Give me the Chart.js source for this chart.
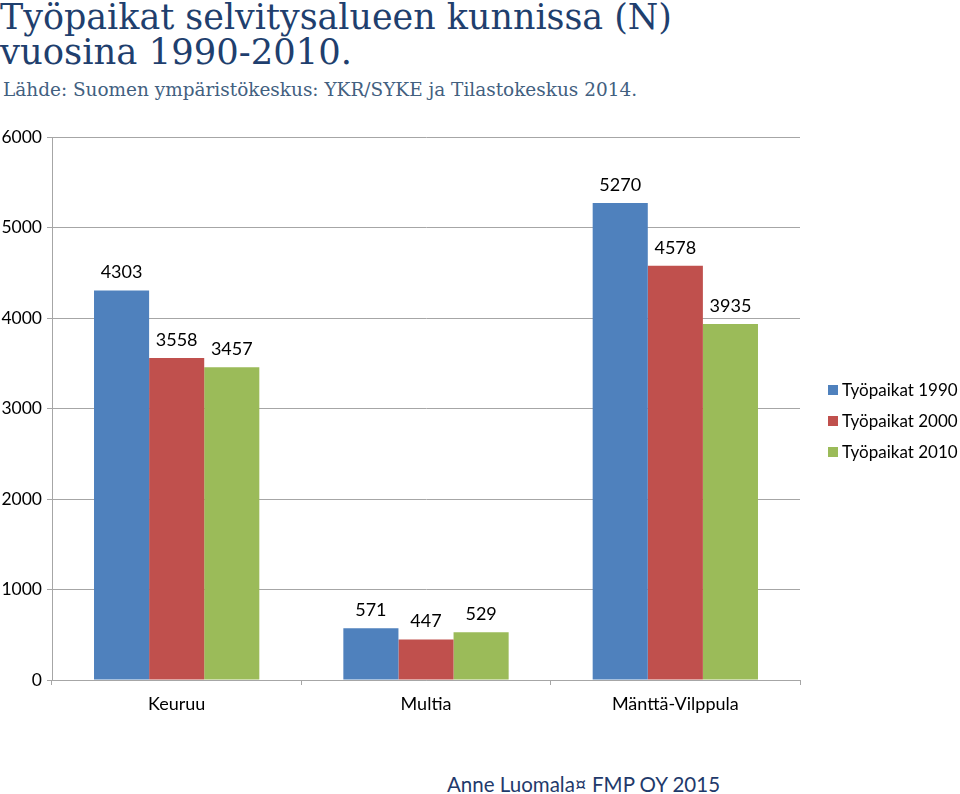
<!DOCTYPE html>
<html lang="fi">
<head>
    <meta charset="UTF-8">
    <title>Työpaikat selvitysalueen kunnissa</title>
    <script src="https://cdn.jsdelivr.net/npm/chart.js"></script>
    <style>
        body { margin: 0; background: #fff; width: 960px; height: 794px; position: relative; overflow: hidden; }
        .fit { transform-origin: 0 0; white-space: nowrap; position: absolute; }
        #title1, #title2 { left: 0; font: 35px "DejaVu Serif", serif; color: #1f3f6e; }
        #title1 { top: -3px; }
        #title2 { top: 32px; }
        #source { left: 3px; top: 78px; font: 19px "DejaVu Serif", serif; color: #42607f; }
        #chartBox { position: absolute; left: 0; top: 120px; width: 960px; height: 610px; }
        #legend { position: absolute; left: 828px; top: 374px; font: 17px Lato, sans-serif; color: #000; white-space: nowrap; }
        .item { height: 31px; display: flex; align-items: center; }
        .box { width: 10px; height: 10px; margin-right: 4px; flex: none; }
        #footer { position: absolute; left: 447px; top: 772px; font: 20.5px Lato, sans-serif; color: #1f3a6b; white-space: nowrap; }
    </style>
</head>
<body>

<div id="title1" class="fit" data-w="672">Työpaikat selvitysalueen kunnissa (N)</div>
<div id="title2" class="fit" data-w="352">vuosina 1990-2010.</div>
<div id="source" class="fit" data-w="634">Lähde: Suomen ympäristökeskus: YKR/SYKE ja Tilastokeskus 2014.</div>
<div id="chartBox"><canvas id="jobsChart"></canvas></div>
<div id="legend"></div>
<div id="footer">Anne Luomala¤ FMP OY 2015</div>

<script>
    const municipalities = ['Keuruu', 'Multia', 'Mänttä-Vilppula'];
    const jobs1990 = [4303, 571, 5270];
    const jobs2000 = [3558, 447, 4578];
    const jobs2010 = [3457, 529, 3935];
    const seriesNames = ['Työpaikat 1990', 'Työpaikat 2000', 'Työpaikat 2010'];
    const seriesColors = ['#4f81bd', '#c0504d', '#9bbb59'];

    const gridColor = '#a6a6a6';

    // squeeze/stretch the heading lines to the widths seen in the original
    document.querySelectorAll('.fit').forEach(el => {
        const w = el.getBoundingClientRect().width;
        el.style.transform = 'scaleX(' + (el.dataset.w / w) + ')';
    });

    // value labels above each bar
    const barLabels = {
        id: 'barLabels',
        afterDatasetsDraw(chart) {
            const ctx = chart.ctx;
            ctx.save();
            ctx.font = '18px Lato, sans-serif';
            ctx.fillStyle = '#000';
            ctx.textAlign = 'center';
            ctx.textBaseline = 'middle';
            chart.data.datasets.forEach((ds, i) => {
                chart.getDatasetMeta(i).data.forEach((bar, j) => {
                    ctx.fillText(ds.data[j], bar.x, bar.y - 18);
                });
            });
            ctx.restore();
        }
    };

    const allSeries = [jobs1990, jobs2000, jobs2010];

    new Chart(document.getElementById('jobsChart'), {
        type: 'bar',
        data: {
            labels: municipalities,
            datasets: allSeries.map((values, i) => ({
                label: seriesNames[i],
                data: values,
                backgroundColor: seriesColors[i],
                categoryPercentage: 0.663,
                barPercentage: 1.0
            }))
        },
        options: {
            responsive: true,
            maintainAspectRatio: false,
            animation: false,
            layout: { padding: { top: 17, right: 160, left: 0, bottom: 0 } },
            plugins: {
                legend: { display: false },
                tooltip: { enabled: false }
            },
            scales: {
                x: {
                    afterFit(scale) { scale.height = 50; },
                    grid: { offset: true, drawOnChartArea: false, color: gridColor, tickLength: 5 },
                    border: { color: gridColor },
                    ticks: { color: '#000', font: { family: 'Lato', size: 18 }, padding: 8 }
                },
                y: {
                    min: 0,
                    max: 6000,
                    afterFit(scale) { scale.width = 52; },
                    grid: { color: gridColor, tickLength: 5 },
                    border: { color: gridColor },
                    ticks: {
                        stepSize: 1000,
                        color: '#000',
                        font: { family: 'Lato', size: 17.5 },
                        padding: 5,
                        callback: v => String(v)
                    }
                }
            }
        },
        plugins: [barLabels]
    });

    const legend = document.getElementById('legend');
    seriesNames.forEach((name, i) => {
        const row = document.createElement('div');
        row.className = 'item';
        row.innerHTML = '<span class="box" style="background:' + seriesColors[i] + '"></span>' + name;
        legend.appendChild(row);
    });
</script>

</body>
</html>
